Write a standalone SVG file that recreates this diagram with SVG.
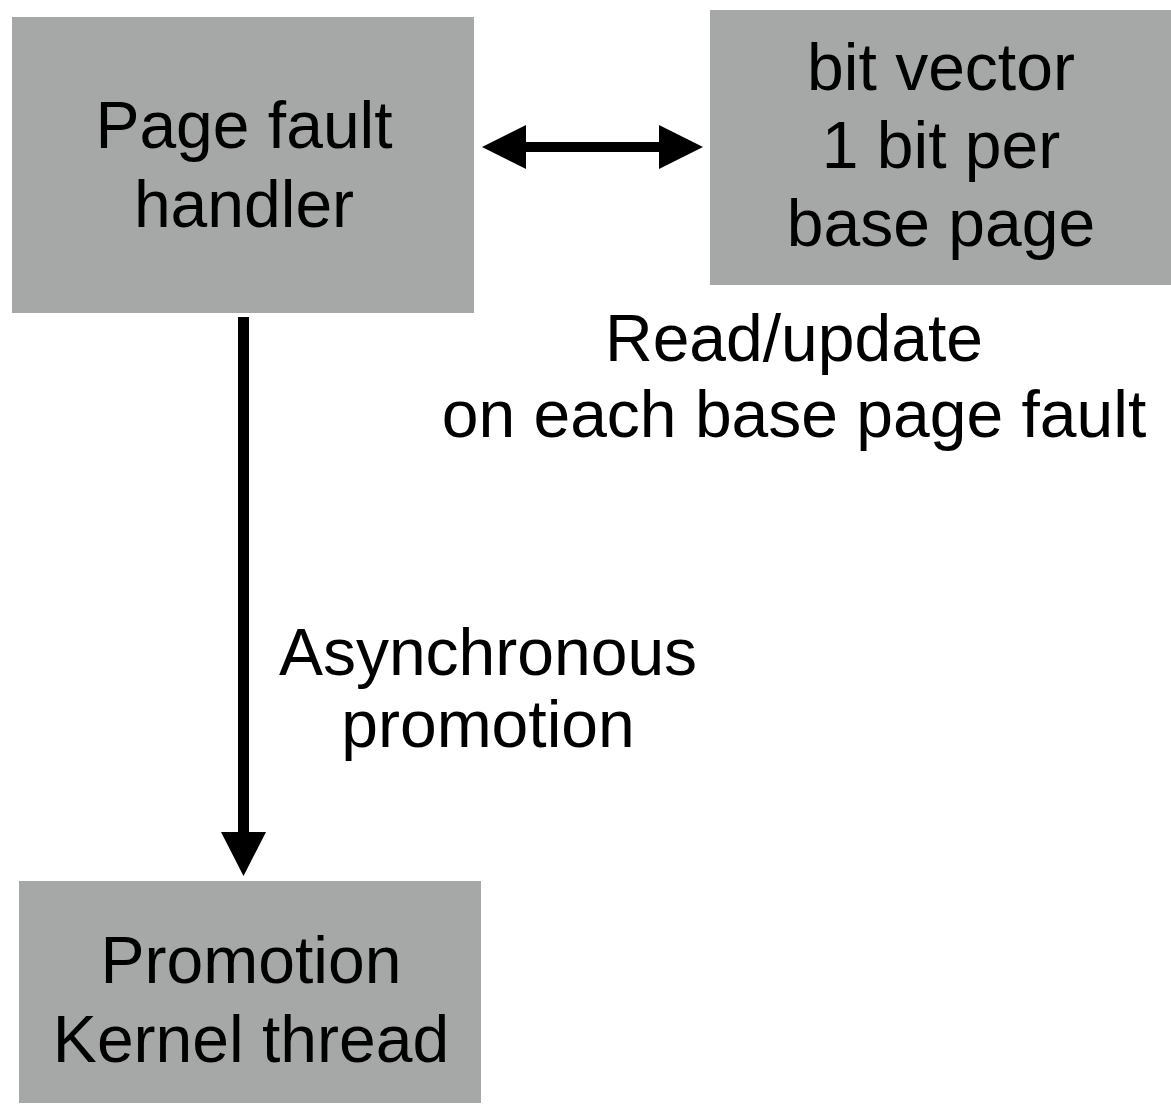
<svg xmlns="http://www.w3.org/2000/svg" width="1171" height="1113" viewBox="0 0 1171 1113">
  <style>
    .box { fill: #a6a8a7; }
    .label { font-family: "Liberation Sans", Arial, sans-serif; font-size: 66px; fill: #000; text-anchor: middle; }
    .conn { fill: #000; }
  </style>
  <rect width="1171" height="1113" fill="#ffffff"/>

  <g id="node-page-fault-handler">
    <rect class="box" x="12" y="17" width="462" height="296"/>
    <text class="label" x="244" y="148">Page fault</text>
    <text class="label" x="244" y="227">handler</text>
  </g>

  <g id="node-bit-vector">
    <rect class="box" x="710" y="10" width="461" height="275"/>
    <text class="label" x="941" y="90">bit vector</text>
    <text class="label" x="941" y="168">1 bit per</text>
    <text class="label" x="941" y="246">base page</text>
  </g>

  <g id="node-promotion-thread">
    <rect class="box" x="19" y="881" width="462" height="222"/>
    <text class="label" x="251" y="983">Promotion</text>
    <text class="label" x="251" y="1062">Kernel thread</text>
  </g>

  <g id="connectors">
    <!-- two-headed arrow between handler and bit vector -->
    <path class="conn" d="M482,147 L526,125 L526,142 L659,142 L659,125 L703,147 L659,169 L659,152 L526,152 L526,169 Z"/>
    <!-- downward arrow from handler to promotion thread -->
    <path class="conn" d="M238,317 L249,317 L249,832 L266,832 L243.5,876 L221,832 L238,832 Z"/>
  </g>

  <g id="connector-labels">
    <text class="label" x="794" y="361">Read/update</text>
    <text class="label" x="794" y="437">on each base page fault</text>
    <text class="label" x="488" y="675">Asynchronous</text>
    <text class="label" x="488" y="747">promotion</text>
  </g>
</svg>
